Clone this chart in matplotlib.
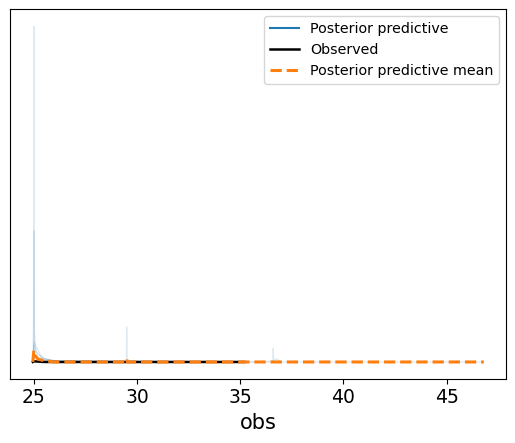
import numpy as np
import matplotlib
matplotlib.use("Agg")
import matplotlib.pyplot as plt

# Posterior predictive density curves (x, density)
pp_x1 = [24.97, 24.995, 25.0, 25.005, 25.03, 25.3, 26.0, 30.0, 35.2]
pp_y1 = [0.0, 0.3, 1.0, 0.3, 0.02, 0.004, 0.0, 0.0, 0.0]

pp_x2 = [24.97, 24.995, 25.0, 25.01, 25.1, 25.5, 26.2, 31.0, 35.3]
pp_y2 = [0.0, 0.12, 0.39, 0.1, 0.03, 0.01, 0.002, 0.0, 0.0]

pp_x3 = [24.97, 25.0, 25.1, 25.5, 29.48, 29.5, 29.52, 32.0, 35.4]
pp_y3 = [0.0, 0.03, 0.015, 0.004, 0.0, 0.104, 0.0, 0.0, 0.0]

pp_x4 = [24.97, 25.0, 25.3, 26.0, 36.58, 36.6, 36.62, 36.75, 37.0, 46.8]
pp_y4 = [0.0, 0.02, 0.01, 0.002, 0.0, 0.041, 0.003, 0.01, 0.0, 0.0]

pp_x5 = [24.97, 25.0, 25.2, 25.6, 26.3, 35.0]
pp_y5 = [0.0, 0.05, 0.02, 0.008, 0.0, 0.0]

pp_x6 = [24.97, 25.01, 25.4, 26.0, 36.0, 36.5, 37.0]
pp_y6 = [0.0, 0.06, 0.01, 0.003, 0.0, 0.003, 0.0]

pp_curves = [(pp_x1, pp_y1), (pp_x2, pp_y2), (pp_x3, pp_y3),
             (pp_x4, pp_y4), (pp_x5, pp_y5), (pp_x6, pp_y6)]

# Observed density
obs_x = [24.95, 25.0, 25.5, 30.0, 35.2]
obs_y = [0.0, 0.002, 0.0, 0.0, 0.0]

# Posterior predictive mean
mean_x = [24.95, 25.0, 25.05, 25.2, 25.5, 26.0, 29.47, 29.5, 29.53, 35.0, 40.0, 46.8]
mean_y = [0.0, 0.035, 0.02, 0.008, 0.004, 0.0, 0.0, 0.008, 0.0, 0.0, 0.0, 0.0]

fig, ax = plt.subplots(figsize=(5.15, 4.43), dpi=100)
fig.subplots_adjust(left=0.02, right=0.983, top=0.979, bottom=0.145)

for i, (xs, ys) in enumerate(pp_curves):
    ax.plot(xs, ys, color="C0", alpha=0.15, linewidth=0.9,
            label="Posterior predictive" if i == 0 else None)
ax.plot(obs_x, obs_y, color="k", linewidth=1.8, label="Observed")
ax.plot(mean_x, mean_y, color="C1", linestyle="--", linewidth=2.2,
        label="Posterior predictive mean")

ax.set_yticks([])
ax.set_xticks([25, 30, 35, 40, 45])
ax.tick_params(axis="x", labelsize=13.5)
ax.set_xlabel("obs", fontsize=15)

leg = ax.legend(loc="upper right", fontsize=10.3)
for h in leg.legend_handles:
    h.set_alpha(1)
leg.legend_handles[0].set_linewidth(1.5)

fig.savefig("out.png", dpi=100)
